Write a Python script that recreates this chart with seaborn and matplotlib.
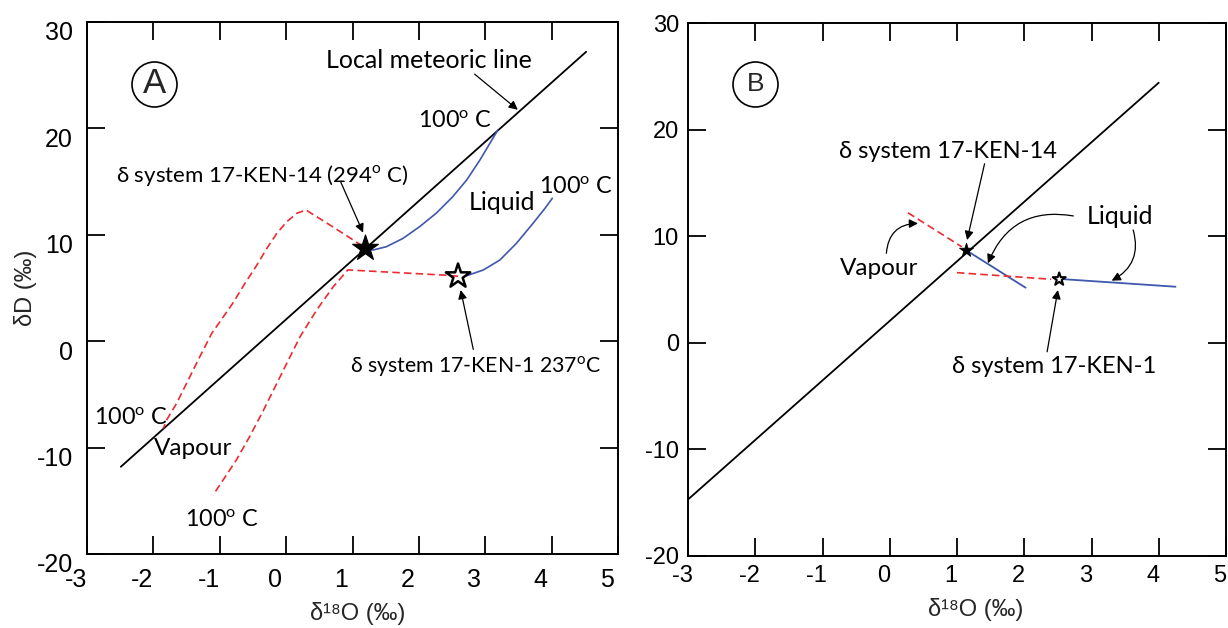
import matplotlib
matplotlib.use("Agg")
import matplotlib.pyplot as plt
import matplotlib.transforms as mtransforms
import numpy as np
import pandas as pd
import seaborn as sns

# ---------------- data ----------------
# Panel A
lmwl_a_x = [-2.49, 4.52]
lmwl_a_y = [-11.8, 27.2]
liq14_a_x = [1.24, 1.31, 1.51, 1.76, 2.01, 2.26, 2.51, 2.72, 2.92, 3.07, 3.19]
liq14_a_y = [8.62, 8.57, 8.88, 9.66, 10.76, 12.02, 13.58, 15.15, 17.03, 18.6, 19.85]
liq1_a_x = [2.72, 2.74, 2.97, 3.22, 3.47, 3.72, 3.90, 4.01]
liq1_a_y = [6.15, 6.2, 6.69, 7.63, 9.2, 11.08, 12.49, 13.43]
vap14_a_x = [1.15, 0.66, 0.30, 0.16, 0.01, -0.14, -0.29, -0.44, -0.62, -0.80,
             -0.99, -1.12, -1.30, -1.50, -1.65, -1.80, -1.85]
vap14_a_y = [8.95, 10.92, 12.33, 12.02, 11.23, 10.14, 8.73, 7.16, 5.44, 3.6,
             1.9, 0.74, -1.45, -3.96, -5.84, -7.4, -8.2]
vap1_a_x = [2.59, 2.41, 0.93, 0.71, 0.46, 0.21, 0.06, -0.14, -0.34, -0.55,
            -0.75, -0.95, -1.10]
vap1_a_y = [6.1, 6.2, 6.7, 5.12, 2.93, 0.42, -1.45, -3.96, -6.47, -8.97,
            -11.17, -13.05, -14.45]
star14_a = (1.19, 8.72)
star1_a = (2.59, 6.1)

# Panel B
lmwl_b_x = [-3.0, 4.0]
lmwl_b_y = [-14.7, 24.4]
vap14_b_x = [0.27, 1.07]
vap14_b_y = [12.2, 9.01]
liq14_b_x = [1.17, 2.02]
liq14_b_y = [8.55, 5.17]
vap1_b_x = [1.0, 2.40]
vap1_b_y = [6.58, 5.96]
liq1_b_x = [2.60, 4.25]
liq1_b_y = [5.96, 5.26]
star14_b = (1.14, 8.7)
star1_b = (2.52, 5.96)

x_ticks = [-3, -2, -1, 0, 1, 2, 3, 4, 5]
y_ticks = [-20, -10, 0, 10, 20, 30]
x_label = "δ¹⁸O (‰)"
y_label = "δD (‰)"

# ---------------- style ----------------
sns.set_style("ticks")
plt.rcParams["font.family"] = ["Liberation Sans", "DejaVu Sans"]
plt.rcParams["axes.unicode_minus"] = False
plt.rcParams["mathtext.fontset"] = "custom"
plt.rcParams["mathtext.rm"] = "Lato"
ANN = ["Lato", "DejaVu Sans"]

BLUE = "#4057ad"
RED = "#ec2a2f"
DASH = (0, (4.5, 2.5))

fig = plt.figure(figsize=(12.28, 6.28), dpi=100)
axA = fig.add_axes([87 / 1228, 74 / 628, 531 / 1228, 532 / 628])
axB = fig.add_axes([688 / 1228, 72 / 628, 538 / 1228, 533 / 628])


def style_axes(ax, labelsize, pad):
    ax.set_xlim(-3, 5)
    ax.set_ylim(-20, 30)
    ax.set_xticks(x_ticks)
    ax.set_yticks(y_ticks)
    ax.tick_params(direction="in", length=13, width=1.3, top=True, right=True,
                   labelsize=labelsize, pad=pad, colors="black")
    for s in ax.spines.values():
        s.set_linewidth(1.4)
        s.set_color("black")


def line(ax, xs, ys, color, lw, ls="-"):
    df = pd.DataFrame({"x": xs, "y": ys})
    sns.lineplot(data=df, x="x", y="y", sort=False, estimator=None, color=color,
                 lw=lw, linestyle=ls, ax=ax)


def arrow(ax, tail, tip, rad=0.0):
    ax.annotate("", xy=tip, xytext=tail,
                arrowprops=dict(arrowstyle="-|>", lw=0.9, color="black",
                                mutation_scale=13, shrinkA=0, shrinkB=0,
                                connectionstyle=f"arc3,rad={rad}"))


def label(ax, x, y, s, size, ha="center"):
    ax.text(x, y, s, fontsize=size, family=ANN, ha=ha, va="baseline", color="black")


deg_c = r"100$^{\rm o}$ C"
PLAIN = 17.5
DEG = 16.8

# ---------------- panel A ----------------
style_axes(axA, 18, 10)
line(axA, lmwl_a_x, lmwl_a_y, "black", 1.3)
line(axA, liq14_a_x, liq14_a_y, BLUE, 1.2)
line(axA, liq1_a_x, liq1_a_y, BLUE, 1.2)
line(axA, vap14_a_x, vap14_a_y, RED, 1.2, DASH)
line(axA, vap1_a_x, vap1_a_y, RED, 1.2, DASH)
sns.scatterplot(x=[star14_a[0]], y=[star14_a[1]], marker="*", s=380, color="black",
                edgecolor="black", linewidth=0.8, ax=axA, zorder=5)
axA.scatter([star1_a[0]], [star1_a[1]], marker="*", s=340, facecolors="none",
            edgecolors="black", linewidths=1.8, zorder=5)

axA.scatter([-1.99], [24.2], marker="o", s=1050, facecolors="white",
            edgecolors="black", linewidths=1.2, zorder=4)
axA.text(-1.99, 24.2, "A", fontsize=25, ha="center", va="center", zorder=6)

label(axA, 2.15, 25.65, "Local meteoric line", 18)
arrow(axA, (2.84, 25.1), (3.49, 21.75))
label(axA, 2.55, 20.0, deg_c, DEG)
label(axA, -0.365, 14.99, r"δ system 17-KEN-14 (294$^{\rm o}$ C)", 16)
arrow(axA, (0.82, 15.0), (1.16, 10.2))
label(axA, 3.245, 12.33, "Liquid", 18)
label(axA, 4.36, 13.83, deg_c, DEG)
label(axA, 2.85, -2.96, r"δ system 17-KEN-1 237$^{\rm o}$C", 15.3)
arrow(axA, (2.82, -0.77), (2.63, 4.81))
label(axA, -2.33, -7.85, deg_c, DEG)
label(axA, -1.40, -10.7, "Vapour", PLAIN)
label(axA, -0.96, -17.43, deg_c, DEG)

axA.set_xlabel(x_label, fontsize=17)
axA.set_ylabel(y_label, fontsize=17)
axA.xaxis.set_label_coords(0.51, -0.09)
axA.yaxis.set_label_coords(-0.095, 0.5)

# ---------------- panel B ----------------
style_axes(axB, 17, 6.5)
line(axB, lmwl_b_x, lmwl_b_y, "black", 1.3)
line(axB, vap14_b_x, vap14_b_y, RED, 1.2, DASH)
line(axB, liq14_b_x, liq14_b_y, BLUE, 1.3)
line(axB, vap1_b_x, vap1_b_y, RED, 1.2, DASH)
line(axB, liq1_b_x, liq1_b_y, BLUE, 1.3)
sns.scatterplot(x=[star14_b[0]], y=[star14_b[1]], marker="*", s=110, color="black",
                edgecolor="black", linewidth=0.6, ax=axB, zorder=5)
axB.scatter([star1_b[0]], [star1_b[1]], marker="*", s=95, facecolors="none",
            edgecolors="black", linewidths=1.5, zorder=5)

axB.scatter([-2.0], [24.25], marker="o", s=1050, facecolors="white",
            edgecolors="black", linewidths=1.2, zorder=4)
axB.text(-2.0, 24.25, "B", fontsize=19, ha="center", va="center", zorder=6)

label(axB, 0.87, 17.3, "δ system 17-KEN-14", 17)
arrow(axB, (1.41, 16.8), (1.15, 9.64))
label(axB, 3.42, 11.12, "Liquid", 18)
arrow(axB, (2.73, 11.9), (1.46, 7.46), rad=0.4)
arrow(axB, (3.62, 10.58), (3.30, 5.83), rad=-0.4)
label(axB, -0.155, 6.36, "Vapour", PLAIN)
arrow(axB, (-0.05, 8.4), (0.42, 11.2), rad=-0.45)
label(axB, 2.45, -2.86, "δ system 17-KEN-1", 17)
arrow(axB, (2.34, -0.84), (2.50, 4.95))

axB.set_xlabel(x_label, fontsize=17)
axB.set_ylabel("")
axB.xaxis.set_label_coords(0.535, -0.078)

# tick label offsets (reference labels are shifted)
offA_y = mtransforms.ScaledTranslation(0, -9 / 100, fig.dpi_scale_trans)
offA_x = mtransforms.ScaledTranslation(-11 / 100, 0, fig.dpi_scale_trans)
offB_x = mtransforms.ScaledTranslation(-6 / 100, 0, fig.dpi_scale_trans)
for t in axA.get_yticklabels():
    t.set_transform(t.get_transform() + offA_y)
for t in axA.get_xticklabels():
    t.set_transform(t.get_transform() + offA_x)
for t in axB.get_xticklabels():
    t.set_transform(t.get_transform() + offB_x)

fig.savefig("out.png", dpi=100)
